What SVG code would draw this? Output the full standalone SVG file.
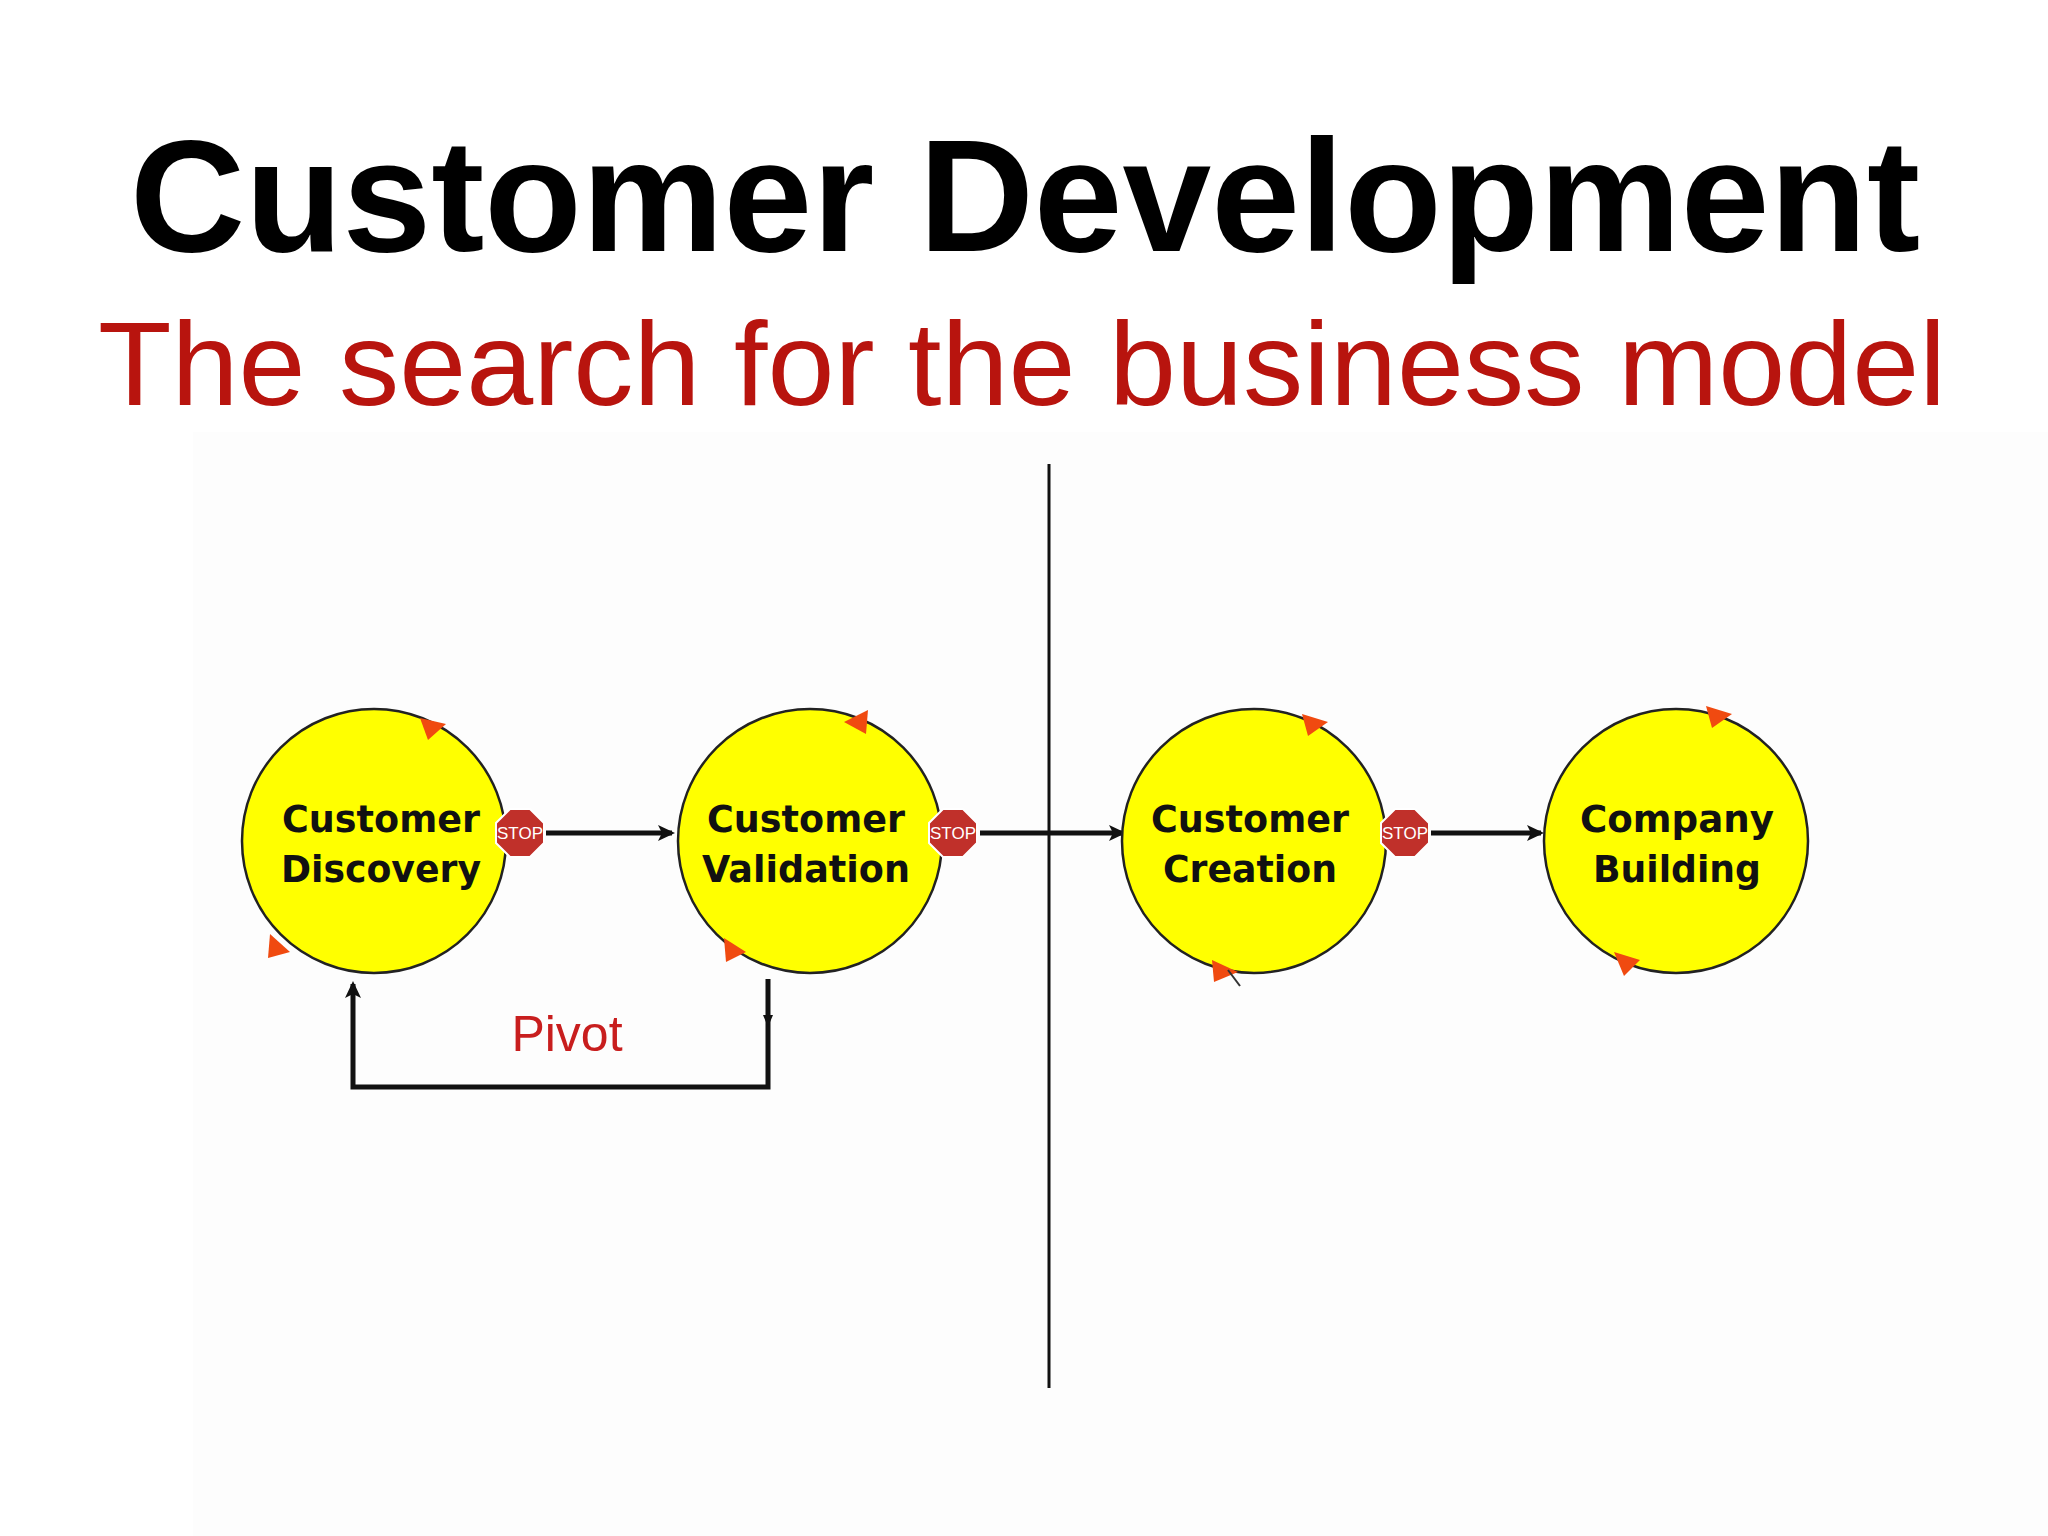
<svg xmlns="http://www.w3.org/2000/svg" width="2048" height="1536" viewBox="0 0 2048 1536">
<defs>
<style>
.node{fill:#ffff00;stroke:#222;stroke-width:2.5}
.lbl{font-family:"DejaVu Sans",sans-serif;font-weight:bold;font-size:38px;fill:#111;text-anchor:middle}
.stop{fill:#c0302a;stroke:#fff;stroke-width:2}
.stopt{font-family:"Liberation Sans Narrow","Liberation Sans",sans-serif;font-size:17px;fill:#fff;text-anchor:middle}
.con{stroke:#111;stroke-width:5;fill:none}
.tri{fill:#f04a10}
</style>
<marker id="ah" markerWidth="20" markerHeight="20" refX="14" refY="10" orient="auto" markerUnits="userSpaceOnUse"><path d="M0,2 L17,10 L0,18 L4,10 z" fill="#111"/></marker>
<polygon id="oct" points="-10,-24 10,-24 24,-10 24,10 10,24 -10,24 -24,10 -24,-10"/>
</defs>
<rect width="2048" height="1536" fill="#fff"/>
<rect x="193" y="432" width="1855" height="1104" fill="#fdfdfd"/>
<text x="1025" y="251" font-family="Liberation Sans,sans-serif" font-weight="bold" font-size="160" text-anchor="middle" textLength="1790" lengthAdjust="spacingAndGlyphs">Customer Development</text>
<text x="1022" y="405" font-family="Liberation Sans,sans-serif" font-size="118" fill="#b8140e" text-anchor="middle" textLength="1848" lengthAdjust="spacingAndGlyphs">The search for the business model</text>
<line x1="1049" y1="464" x2="1049" y2="1388" stroke="#111" stroke-width="3"/>
<g id="connectors">
<line class="con" x1="546" y1="833" x2="672" y2="833" marker-end="url(#ah)"/>
<line class="con" x1="980" y1="833" x2="1123" y2="833" marker-end="url(#ah)"/>
<line class="con" x1="1431" y1="833" x2="1541" y2="833" marker-end="url(#ah)"/>
<path class="con" d="M768,979 L768,1087 L353,1087 L353,984" marker-end="url(#ah)"/>
<path d="M763,1015 L773,1015 L768,1027 z" fill="#111"/>
<text x="567" y="1051" font-family="Liberation Sans,sans-serif" font-size="50" fill="#c81e1e" text-anchor="middle">Pivot</text>
</g>
<g id="n1"><circle class="node" cx="374" cy="841" r="132"/><text class="lbl" x="381" y="832" textLength="198" lengthAdjust="spacingAndGlyphs">Customer</text><text class="lbl" x="381" y="882" textLength="200" lengthAdjust="spacingAndGlyphs">Discovery</text>
<polygon class="tri" points="420,718 446,724 428,740"/><polygon class="tri" points="270,934 290,952 268,958"/></g>
<g id="n2"><circle class="node" cx="810" cy="841" r="132"/><text class="lbl" x="806" y="832" textLength="198" lengthAdjust="spacingAndGlyphs">Customer</text><text class="lbl" x="806" y="882" textLength="208" lengthAdjust="spacingAndGlyphs">Validation</text>
<polygon class="tri" points="868,710 866,734 844,722"/><polygon class="tri" points="724,938 746,952 726,962"/></g>
<g id="n3"><circle class="node" cx="1254" cy="841" r="132"/><text class="lbl" x="1250" y="832" textLength="198" lengthAdjust="spacingAndGlyphs">Customer</text><text class="lbl" x="1250" y="882" textLength="174" lengthAdjust="spacingAndGlyphs">Creation</text>
<polygon class="tri" points="1302,714 1328,722 1308,736"/><polygon class="tri" points="1212,960 1238,972 1214,982"/><line x1="1228" y1="970" x2="1240" y2="986" stroke="#333" stroke-width="2"/></g>
<g id="n4"><circle class="node" cx="1676" cy="841" r="132"/><text class="lbl" x="1677" y="832" textLength="194" lengthAdjust="spacingAndGlyphs">Company</text><text class="lbl" x="1677" y="882" textLength="168" lengthAdjust="spacingAndGlyphs">Building</text>
<polygon class="tri" points="1706,706 1732,714 1712,728"/><polygon class="tri" points="1614,952 1640,960 1624,976"/></g>
<g id="stop1"><use href="#oct" class="stop" transform="translate(520,833)"/><text class="stopt" x="520" y="839">STOP</text></g>
<g id="stop2"><use href="#oct" class="stop" transform="translate(953,833)"/><text class="stopt" x="953" y="839">STOP</text></g>
<g id="stop3"><use href="#oct" class="stop" transform="translate(1405,833)"/><text class="stopt" x="1405" y="839">STOP</text></g>
</svg>
